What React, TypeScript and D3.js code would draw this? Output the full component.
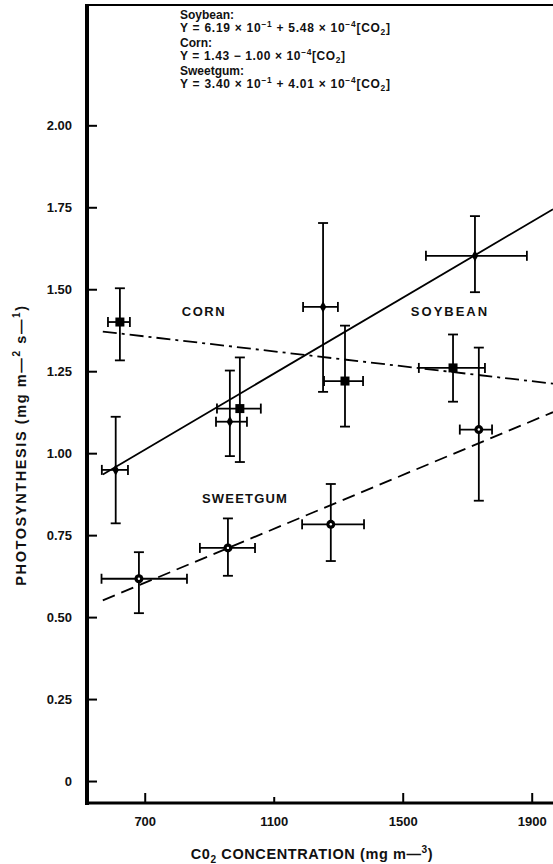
import React, { useEffect, useRef } from "react";
import * as d3 from "d3";

const W = 553;
const H = 864;

// Corn (squares)
const cornX = [623, 995, 1321, 1656];
const cornY = [1.4, 1.136, 1.22, 1.26];
const cornXLo = [586, 924, 1256, 1550];
const cornXHi = [654, 1060, 1377, 1755];
const cornYLo = [1.283, 0.973, 1.081, 1.157];
const cornYHi = [1.503, 1.292, 1.389, 1.362];

// Soybean (diamonds)
const soyX = [610, 964, 1253, 1724];
const soyY = [0.949, 1.096, 1.446, 1.602];
const soyXLo = [567, 921, 1191, 1572];
const soyXHi = [648, 1017, 1299, 1885];
const soyYLo = [0.786, 0.991, 1.187, 1.491];
const soyYHi = [1.111, 1.252, 1.702, 1.723];

// Sweetgum (circles)
const gumX = [682, 958, 1277, 1736];
const gumY = [0.617, 0.711, 0.783, 1.072];
const gumXLo = [566, 871, 1188, 1677];
const gumXHi = [831, 1042, 1380, 1777];
const gumYLo = [0.512, 0.626, 0.671, 0.855];
const gumYHi = [0.698, 0.801, 0.906, 1.322];

const lineX = [570, 1966];
const soyLineY = [0.935, 1.744];
const cornLineY = [1.371, 1.212];
const gumLineY = [0.551, 1.125];

const xTicks = [700, 1100, 1500, 1900];
const yTicks = [0, 0.25, 0.5, 0.75, 1, 1.25, 1.5, 1.75, 2];

type Part = { t: string; s?: "sup" | "sub" };

const equations: { head: string; eq: Part[]; len: number }[] = [
  {
    head: "Soybean:",
    eq: [{ t: "Y = 6.19 × 10" }, { t: "−1", s: "sup" }, { t: " + 5.48 × 10" }, { t: "−4", s: "sup" }, { t: "[CO" }, { t: "2", s: "sub" }, { t: "]" }],
    len: 210,
  },
  {
    head: "Corn:",
    eq: [{ t: "Y = 1.43 − 1.00 × 10" }, { t: "−4", s: "sup" }, { t: "[CO" }, { t: "2", s: "sub" }, { t: "]" }],
    len: 165,
  },
  {
    head: "Sweetgum:",
    eq: [{ t: "Y = 3.40 × 10" }, { t: "−1", s: "sup" }, { t: " + 4.01 × 10" }, { t: "−4", s: "sup" }, { t: "[CO" }, { t: "2", s: "sub" }, { t: "]" }],
    len: 210,
  },
];

const FONT = "'Liberation Sans', Arial, Helvetica, sans-serif";

function addParts(sel: any, parts: Part[], size: number) {
  let off = 0;
  parts.forEach((p) => {
    const ts = sel.append("tspan").text(p.t);
    let target = 0;
    if (p.s === "sup") target = -size * 0.4;
    if (p.s === "sub") target = size * 0.25;
    if (target !== off) ts.attr("dy", target - off);
    off = target;
    if (p.s) ts.attr("font-size", size * 0.7);
  });
}

const App = () => {
  const ref = useRef<SVGSVGElement>(null);

  useEffect(() => {
    const svg = d3.select(ref.current);
    svg.selectAll("*").remove();

    const x = d3.scaleLinear().domain([521, 1966]).range([87, 553]);
    const y = d3.scaleLinear().domain([-0.067, 2.37]).range([803, 4]);

    const g = svg.append("g").attr("font-family", FONT);

    // axes
    g.append("g")
      .attr("transform", "translate(87,0)")
      .call(
        d3.axisLeft(y)
          .tickValues(yTicks)
          .tickSize(-10)
          .tickPadding(15)
          .tickFormat((d: any) => (d === 0 ? "0" : d3.format(".2f")(d)))
      )
      .call((a: any) => a.select(".domain").remove())
      .call((a: any) => a.selectAll("line").attr("stroke-width", 2))
      .call((a: any) =>
        a.selectAll("text").attr("font-size", 13).attr("font-weight", "bold").attr("font-family", FONT).attr("fill", "#111")
      );

    g.append("g")
      .attr("transform", "translate(0,803)")
      .call(d3.axisBottom(x).tickValues(xTicks).tickSize(-10).tickPadding(14).tickFormat(d3.format("d")))
      .call((a: any) => a.select(".domain").remove())
      .call((a: any) => a.selectAll("line").attr("stroke-width", 2).attr("y2", (d: any) => (d === 1100 ? -6 : -10)))
      .call((a: any) =>
        a.selectAll("text").attr("font-size", 13).attr("font-weight", "bold").attr("font-family", FONT).attr("fill", "#111")
      );

    // frame
    g.append("line").attr("x1", 85).attr("x2", W).attr("y1", 5).attr("y2", 5).attr("stroke", "#000").attr("stroke-width", 2);
    g.append("line").attr("x1", 87).attr("x2", 87).attr("y1", 4).attr("y2", 805).attr("stroke", "#000").attr("stroke-width", 4);
    g.append("line").attr("x1", 85).attr("x2", W).attr("y1", 803).attr("y2", 803).attr("stroke", "#000").attr("stroke-width", 3);

    // fitted lines
    const fit = [
      { ys: soyLineY, dash: null },
      { ys: cornLineY, dash: "14,5,3,5" },
      { ys: gumLineY, dash: "13,7" },
    ];
    fit.forEach((f) => {
      const l = g.append("line")
        .attr("x1", x(lineX[0])).attr("y1", y(f.ys[0]))
        .attr("x2", x(lineX[1])).attr("y2", y(f.ys[1]))
        .attr("stroke", "#000").attr("stroke-width", 1.8);
      if (f.dash) l.attr("stroke-dasharray", f.dash);
    });

    // error bars + markers
    const series = [
      { kind: "square", xs: cornX, ys: cornY, xlo: cornXLo, xhi: cornXHi, ylo: cornYLo, yhi: cornYHi },
      { kind: "diamond", xs: soyX, ys: soyY, xlo: soyXLo, xhi: soyXHi, ylo: soyYLo, yhi: soyYHi },
      { kind: "circle", xs: gumX, ys: gumY, xlo: gumXLo, xhi: gumXHi, ylo: gumYLo, yhi: gumYHi },
    ];
    const cap = 5;
    series.forEach((s) => {
      s.xs.forEach((xv, i) => {
        const px = x(xv);
        const py = y(s.ys[i]);
        const eb = g.append("g").attr("stroke", "#000").attr("stroke-width", 1.8);
        eb.append("line").attr("x1", px).attr("x2", px).attr("y1", y(s.ylo[i])).attr("y2", y(s.yhi[i]));
        eb.append("line").attr("x1", px - cap).attr("x2", px + cap).attr("y1", y(s.ylo[i])).attr("y2", y(s.ylo[i]));
        eb.append("line").attr("x1", px - cap).attr("x2", px + cap).attr("y1", y(s.yhi[i])).attr("y2", y(s.yhi[i]));
        eb.append("line").attr("x1", x(s.xlo[i])).attr("x2", x(s.xhi[i])).attr("y1", py).attr("y2", py);
        eb.append("line").attr("x1", x(s.xlo[i])).attr("x2", x(s.xlo[i])).attr("y1", py - cap).attr("y2", py + cap);
        eb.append("line").attr("x1", x(s.xhi[i])).attr("x2", x(s.xhi[i])).attr("y1", py - cap).attr("y2", py + cap);

        if (s.kind === "square") {
          g.append("rect").attr("x", px - 4.5).attr("y", py - 4.5).attr("width", 9).attr("height", 9).attr("fill", "#000");
        } else if (s.kind === "diamond") {
          g.append("path").attr("transform", `translate(${px},${py})`).attr("d", d3.symbol(d3.symbolDiamond, 36)()).attr("fill", "#000");
        } else {
          g.append("circle").attr("cx", px).attr("cy", py).attr("r", 4.5).attr("fill", "#000");
          g.append("circle").attr("cx", px).attr("cy", py).attr("r", 1.2).attr("fill", "#fff");
        }
      });
    });

    // series labels
    const lab = (t: string, cx: number, cy: number, ls: number) =>
      g.append("text").attr("x", cx).attr("y", cy).attr("text-anchor", "middle")
        .attr("font-size", 13).attr("font-weight", "bold").attr("letter-spacing", ls).attr("fill", "#111").text(t);
    lab("CORN", 204, 316, 1.5);
    lab("SOYBEAN", 450, 316, 2);
    lab("SWEETGUM", 245, 503, 1.2);

    // equations
    const baseY = [19, 47, 75];
    equations.forEach((e, i) => {
      g.append("text").attr("x", 180).attr("y", baseY[i]).attr("font-size", 12).attr("font-weight", "bold").attr("fill", "#111").text(e.head);
      const t = g.append("text").attr("x", 180).attr("y", baseY[i] + 13).attr("font-size", 12).attr("font-weight", "bold").attr("fill", "#111")
        .attr("textLength", e.len).attr("lengthAdjust", "spacing");
      addParts(t, e.eq, 12);
    });

    // axis titles
    const yt = g.append("text")
      .attr("transform", "translate(26,445) rotate(-90)")
      .attr("text-anchor", "middle").attr("font-size", 14.5).attr("font-weight", "bold").attr("fill", "#111")
      .attr("letter-spacing", 1.6);
    addParts(yt, [{ t: "PHOTOSYNTHESIS (mg m—" }, { t: "2", s: "sup" }, { t: " s—" }, { t: "1", s: "sup" }, { t: ")" }], 14.5);

    const xt = g.append("text")
      .attr("x", 312).attr("y", 859)
      .attr("text-anchor", "middle").attr("font-size", 14.5).attr("font-weight", "bold").attr("fill", "#111").attr("letter-spacing", 0.6);
    addParts(xt, [{ t: "C0" }, { t: "2", s: "sub" }, { t: " CONCENTRATION (mg m—" }, { t: "3", s: "sup" }, { t: ")" }], 14.5);
  }, []);

  return (
    <svg
      ref={ref}
      width={W}
      height={H}
      style={{ position: "absolute", left: 0, top: 0, background: "#fff" }}
    />
  );
};

export default App;
